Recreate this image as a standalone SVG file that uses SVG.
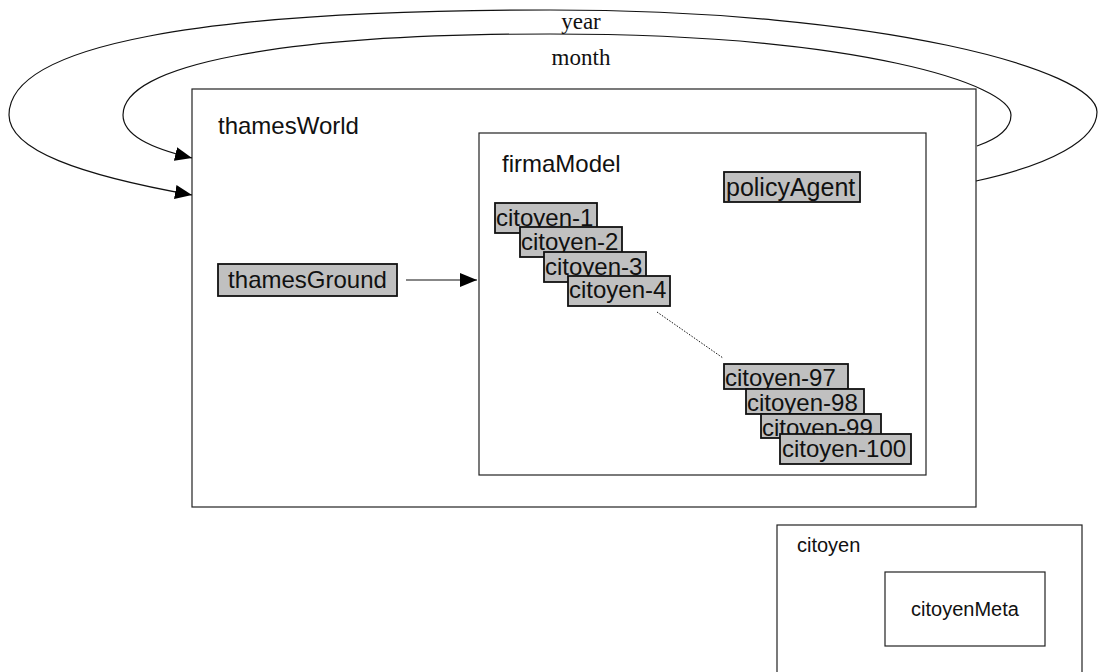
<svg xmlns="http://www.w3.org/2000/svg" width="1098" height="672" viewBox="0 0 1098 672">
<style>
  .frame { fill: #ffffff; stroke: #222222; stroke-width: 1.2; }
  .agent { fill: #c0c0c0; stroke: #111111; stroke-width: 1.8; }
  .lbl { font-family: "Liberation Sans", Arial, sans-serif; fill: #111111; }
  .ser { font-family: "Liberation Serif", "Times New Roman", serif; font-size: 23px; fill: #111111; }
  .conn { fill: none; stroke: #111111; stroke-width: 1.2; }
</style>
<defs>
  <marker id="arr" markerUnits="userSpaceOnUse" markerWidth="17" markerHeight="14" refX="17" refY="7" orient="auto">
    <path d="M0,0 L17,7 L0,14 z" fill="#000000"/>
  </marker>
</defs>
<rect width="1098" height="672" fill="#ffffff"/>

<g id="thamesWorld">
  <rect class="frame" x="192" y="89" width="784" height="418"/>
  <text class="lbl" x="218" y="134" font-size="24">thamesWorld</text>
</g>

<g id="firmaModel">
  <rect class="frame" x="479" y="133" width="447" height="342"/>
  <text class="lbl" x="502" y="172" font-size="24">firmaModel</text>
</g>

<g id="policyAgent">
  <rect class="agent" x="724" y="172" width="136" height="30"/>
  <text class="lbl" x="726" y="196" font-size="25">policyAgent</text>
</g>

<g id="thamesGround">
  <rect class="agent" x="218" y="264" width="179" height="32"/>
  <text class="lbl" x="307.5" y="288" font-size="24" text-anchor="middle">thamesGround</text>
</g>

<g id="citoyen-1">
  <rect class="agent" x="495" y="203" width="102" height="30"/>
  <text class="lbl" x="496" y="226" font-size="24">citoyen-1</text>
</g>
<g id="citoyen-2">
  <rect class="agent" x="520" y="227" width="102" height="30"/>
  <text class="lbl" x="521" y="250" font-size="24">citoyen-2</text>
</g>
<g id="citoyen-3">
  <rect class="agent" x="544" y="252" width="102" height="30"/>
  <text class="lbl" x="545" y="275" font-size="24">citoyen-3</text>
</g>
<g id="citoyen-4">
  <rect class="agent" x="568" y="276" width="102" height="30"/>
  <text class="lbl" x="569" y="298" font-size="24">citoyen-4</text>
</g>
<g id="citoyen-97">
  <rect class="agent" x="724" y="364" width="124" height="25"/>
  <text class="lbl" x="725" y="386" font-size="24">citoyen-97 </text>
</g>
<g id="citoyen-98">
  <rect class="agent" x="746" y="389" width="118" height="25"/>
  <text class="lbl" x="747" y="411" font-size="24">citoyen-98</text>
</g>
<g id="citoyen-99">
  <rect class="agent" x="761" y="414" width="120" height="24"/>
  <text class="lbl" x="762" y="436" font-size="24">citoyen-99</text>
</g>
<g id="citoyen-100">
  <rect class="agent" x="780" y="434" width="131" height="30"/>
  <text class="lbl" x="782" y="457" font-size="24">citoyen-100</text>
</g>

<g id="citoyen">
  <rect class="frame" x="777" y="525" width="305" height="160"/>
  <text class="lbl" x="797" y="552" font-size="20">citoyen</text>
</g>
<g id="citoyenMeta">
  <rect class="frame" x="885" y="572" width="160" height="74"/>
  <text class="lbl" x="965" y="616" font-size="20" text-anchor="middle">citoyenMeta</text>
</g>

<g id="connectors">
  <path class="conn" d="M976,181 C1050,165 1097,140 1097,112 C1097,70 880,10 550,10 C200,10 9,45 9,115 C9,150 80,175 192,195" marker-end="url(#arr)"/>
  <path class="conn" d="M977,146 C1000,138 1011,128 1011,115 C1011,85 860,34 550,34 C280,34 123,65 123,115 C123,135 150,148 192,158" marker-end="url(#arr)"/>
  <line class="conn" x1="406" y1="280" x2="477" y2="280" marker-end="url(#arr)"/>
  <line x1="657" y1="312" x2="723" y2="358" stroke="#111111" stroke-width="1" stroke-dasharray="1.5,1.5"/>
  <text class="ser" x="581" y="29" text-anchor="middle">year</text>
  <text class="ser" x="581" y="65" text-anchor="middle">month</text>
</g>
</svg>
